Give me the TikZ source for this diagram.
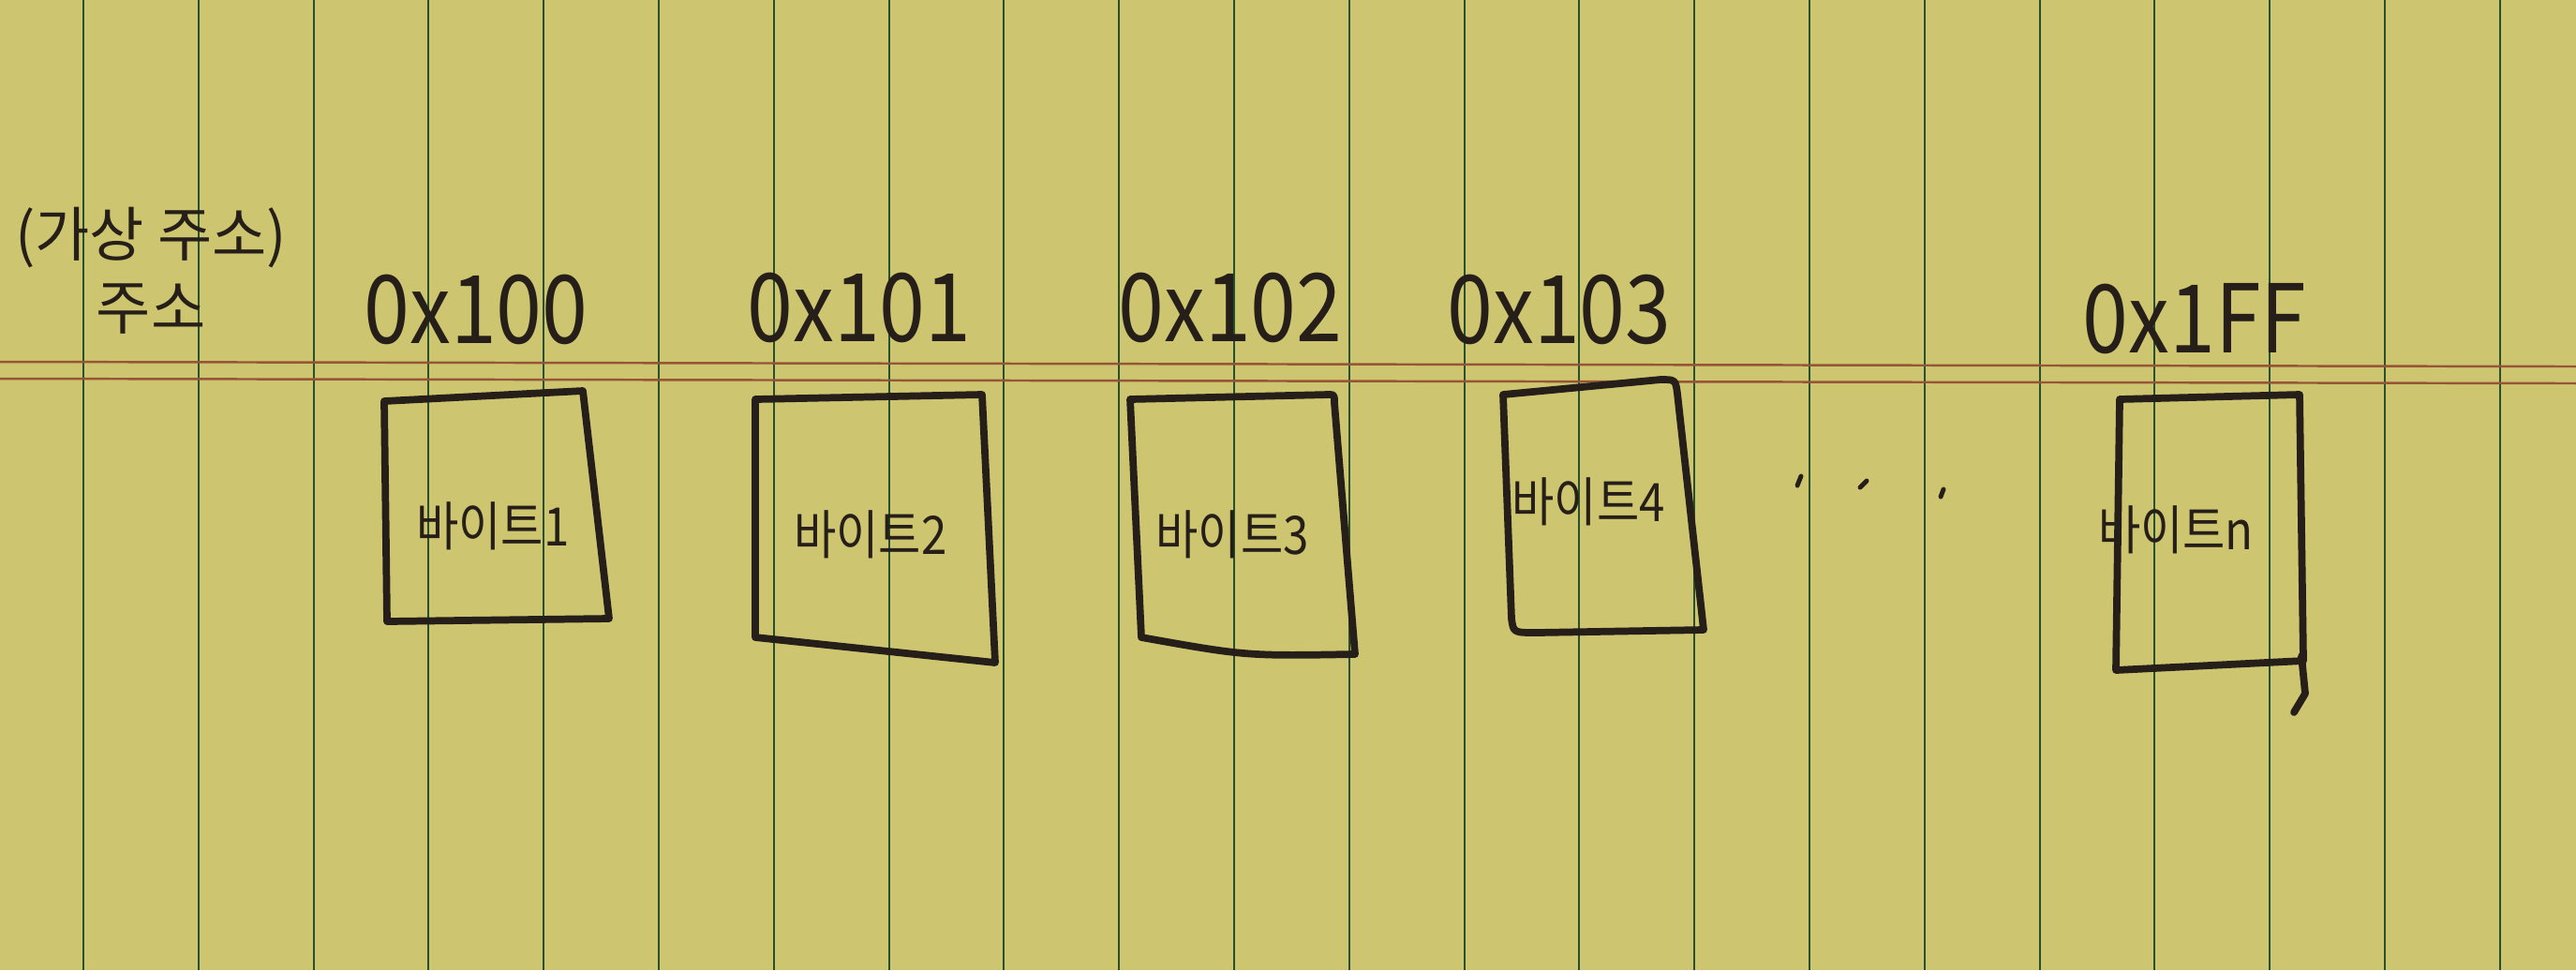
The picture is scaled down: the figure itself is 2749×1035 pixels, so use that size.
\documentclass[tikz,border=0pt]{standalone}
\usepackage{fontspec}
\newfontfamily\kr{Noto Sans CJK KR}
\definecolor{paper}{RGB}{205,197,112}
\definecolor{greenrule}{RGB}{40,80,45}
\definecolor{redrule}{RGB}{150,85,55}
\definecolor{ink}{RGB}{38,30,24}
\begin{document}
\begin{tikzpicture}[x=0.01cm,y=-0.01cm,
  inkline/.style={draw=ink,line width=2.2pt,line join=round,line cap=round},
  lbl/.style={text=ink,font=\kr\fontsize{14}{14}\selectfont,inner sep=0pt,yscale=1.15},
  addr/.style={text=ink,font=\kr\fontsize{25}{25}\selectfont,inner sep=0pt,yscale=1.15},
  head/.style={text=ink,font=\kr\fontsize{18}{18}\selectfont,inner sep=0pt}]
\fill[paper] (0,0) rectangle (2749,1035);
\useasboundingbox (0,0) rectangle (2749,1035);
\foreach \i in {0,...,21} \draw[greenrule,line width=0.6pt] ({89+122.8*\i},0) -- ({89+122.8*\i},1035);
\draw[redrule,line width=0.7pt] (0,386) -- (2749,391);
\draw[redrule,line width=0.7pt] (0,404) -- (2749,409);

% headings
\node[head] (h1) at (161,254) {(가상 주소)};
\node[head] (h2) at (161,330) {주소};

% addresses
\node[addr] (a1) at (508,330) {0x100};
\node[addr] (a2) at (917,328) {0x101};
\node[addr] (a3) at (1313,328) {0x102};
\node[addr] (a4) at (1664,330) {0x103};
\node[addr] (a5) at (2342,340) {0x1FF};

% boxes
\draw[inkline] (410,428) -- (622,417) -- (650,660) -- (413,663) -- cycle;
\draw[inkline] (806,426) -- (1048,421) -- (1062,707) -- (806,680) -- cycle;
\draw[inkline] (1206,426) -- (1418,421) .. controls (1424,421) .. (1424,430) -- (1446,698) .. controls (1330,700) .. (1218,680) -- cycle;
\draw[inkline] (1604,421) -- (1772,405) .. controls (1788,405) .. (1790,420) -- (1818,672) -- (1640,675) .. controls (1615,675) .. (1613,660) -- cycle;
\draw[inkline] (2262,426) -- (2454,421) -- (2458,705) -- (2258,715) -- cycle;
\draw[inkline] (2456,700) -- (2460,740) -- (2448,760);

% box labels
\node[lbl] (b1) at (526,561) {바이트1};
\node[lbl] (b2) at (929,570) {바이트2};
\node[lbl] (b3) at (1315,570) {바이트3};
\node[lbl] (b4) at (1695,535) {바이트4};
\node[lbl] (bn) at (2322,565) {바이트n};

% ellipsis dots
\draw[inkline,line width=1.4pt] (1918,518) -- (1922,508);
\draw[inkline,line width=1.4pt] (1985,520) -- (1992,513);
\draw[inkline,line width=1.4pt] (2071,530) -- (2074,522);
\end{tikzpicture}
\end{document}
